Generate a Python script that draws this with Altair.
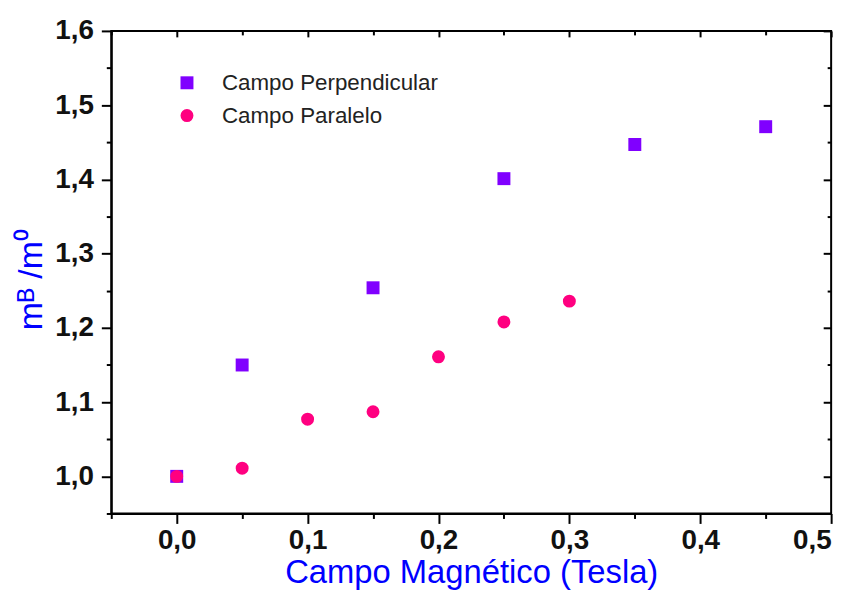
import altair as alt
import pandas as pd

series_names = ["Campo Perpendicular", "Campo Paralelo"]
series_colors = ["#8000FF", "#FF0080"]
series_shapes = ["square", "circle"]

perp_x = [0.0, 0.05, 0.15, 0.25, 0.35, 0.45]
perp_y = [1.0, 1.150, 1.254, 1.401, 1.447, 1.471]

par_x = [0.0, 0.05, 0.10, 0.15, 0.20, 0.25, 0.30]
par_y = [1.0, 1.011, 1.077, 1.087, 1.161, 1.208, 1.236]

x_ticks = [-0.05, 0.0, 0.05, 0.1, 0.15, 0.2, 0.25, 0.3, 0.35, 0.4, 0.45, 0.5]
y_ticks = [0.95, 1.0, 1.05, 1.1, 1.15, 1.2, 1.25, 1.3, 1.35, 1.4, 1.45, 1.5, 1.55, 1.6]

rows = []
for xv, yv in zip(perp_x, perp_y):
    rows.append({"x": xv, "y": yv, "series": series_names[0]})
for xv, yv in zip(par_x, par_y):
    rows.append({"x": xv, "y": yv, "series": series_names[1]})
df = pd.DataFrame(rows)

W, H = 725, 486
FONT = "Liberation Sans"
minor = "abs(datum.value*10 - round(datum.value*10)) > 0.001"
label_expr = f"({minor}) ? '' : replace(format(datum.value, '.1f'), '.', ',')"

xscale = alt.Scale(domain=[-0.05, 0.5], nice=False, zero=False)
yscale = alt.Scale(domain=[0.95, 1.6], nice=False, zero=False)

common_axis = dict(
    grid=False,
    domainColor="black",
    domainWidth=2,
    tickColor="black",
    tickWidth=2,
    labelFont=FONT,
    labelFontSize=28,
    labelFontWeight="bold",
    labelColor="#111111",
    titleFont=FONT,
    titleColor="#0000FF",
    titleFontWeight="normal",
)

axis_bottom = alt.Axis(
    values=x_ticks,
    labelExpr=label_expr,
    tickSize={"condition": {"test": minor, "value": 5}, "value": 10},
    labelPadding=3,
    title="Campo Magnético (Tesla)",
    titleFontSize=33,
    titlePadding=3,
    **common_axis,
)
axis_left = alt.Axis(
    values=y_ticks,
    labelExpr=label_expr,
    tickSize={"condition": {"test": minor, "value": 5}, "value": 10},
    labelPadding=8,
    title="mᴮ /m⁰",
    titleFontSize=34,
    titlePadding=6,
    titleY=250,
    **common_axis,
)
axis_top = alt.Axis(
    orient="bottom",
    offset=-H,
    values=x_ticks,
    labels=False,
    domain=False,
    title=None,
    grid=False,
    tickColor="black",
    tickWidth=2,
    tickSize={"condition": {"test": minor, "value": 4}, "value": 6},
)
axis_right = alt.Axis(
    orient="left",
    offset=-W,
    values=y_ticks,
    labels=False,
    domain=False,
    title=None,
    grid=False,
    tickColor="black",
    tickWidth=2,
    tickSize={"condition": {"test": minor, "value": 4}, "value": 8},
)

legend = alt.Legend(
    orient="none",
    legendX=65,
    legendY=41,
    title=None,
    labelFont=FONT,
    labelFontSize=22.5,
    labelColor="#222222",
    labelLimit=0,
    symbolSize=170,
    symbolStrokeWidth=0,
    labelOffset=24,
    rowPadding=10,
    padding=0,
)

points = alt.Chart(df).mark_point(filled=True, opacity=1, size=170).encode(
    x=alt.X("x:Q", scale=xscale, axis=axis_bottom),
    y=alt.Y("y:Q", scale=yscale, axis=axis_left),
    color=alt.Color("series:N", scale=alt.Scale(domain=series_names, range=series_colors), legend=legend),
    shape=alt.Shape("series:N", scale=alt.Scale(domain=series_names, range=series_shapes), legend=legend),
)

frame = alt.Chart(df).mark_point(opacity=0).encode(
    x=alt.X("x:Q", scale=xscale, axis=axis_top),
    y=alt.Y("y:Q", scale=yscale, axis=axis_right),
)

chart = (
    alt.layer(points, frame)
    .resolve_axis(x="independent", y="independent")
    .properties(
        width=W,
        height=H,
        autosize="none",
        padding={"left": 104, "top": 21, "right": 20, "bottom": 76},
        background="white",
    )
    .configure_view(stroke="black", strokeWidth=2)
)

chart.save("out.html", embed_options={"renderer": "svg", "actions": False})
